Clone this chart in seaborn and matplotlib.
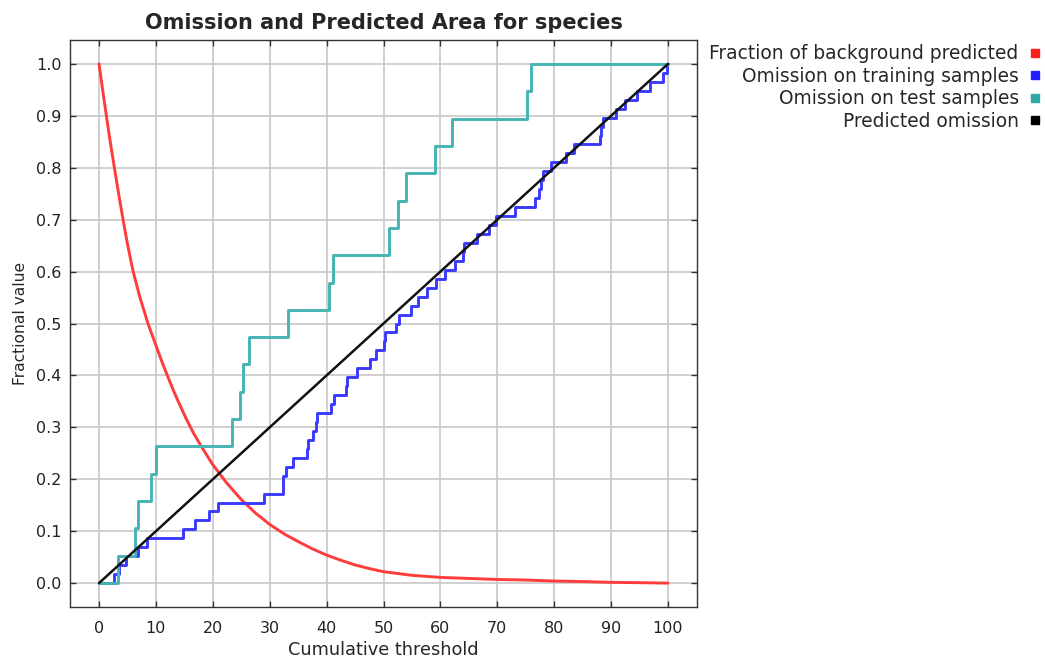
import numpy as np
import pandas as pd
import matplotlib
matplotlib.use("Agg")
import matplotlib.pyplot as plt
from matplotlib.lines import Line2D
import seaborn as sns

# cumulative thresholds at which each sample gets omitted
train_thresholds = [2.6, 3.5, 4.75, 6.8, 8.4, 14.8, 16.8, 19.4, 20.9, 29.0,
                    32.3, 32.3, 32.9, 34.1, 36.6, 36.7, 37.6, 38.1, 38.3, 40.8,
                    41.3, 43.4, 43.5, 45.4, 47.7, 48.6, 50.0, 50.35, 52.2, 52.7,
                    54.9, 56.1, 57.6, 59.3, 60.8, 62.5, 64.0, 64.2, 66.4, 68.5,
                    69.8, 73.1, 76.6, 77.3, 77.7, 78.1, 79.5, 82.0, 83.4, 88.0,
                    88.3, 88.6, 90.9, 92.4, 94.5, 96.9, 99.2, 99.8]
test_thresholds = [3.4, 6.3, 6.9, 9.2, 10.0, 23.4, 24.7, 25.3, 26.3, 33.2,
                   40.4, 41.1, 51.05, 52.5, 53.9, 59.1, 62.1, 75.2, 75.9]

# fraction of background predicted
bg_x = [0, 0.7, 1.4, 2.0, 2.7, 3.4, 4.1, 5.0, 6.0, 7.2, 8.6, 10.0, 11.0, 12.0,
        13.0, 14.0, 15.3, 16.6, 18.0, 20.0, 22.5, 25.0, 27.5, 30.0, 32.5, 35.0,
        37.5, 40.0, 42.5, 45.0, 47.5, 50.0, 55.0, 60.0, 65.0, 70.0, 75.0, 80.0,
        85.0, 90.0, 95.0, 100.0]
bg_y = [1.0, 0.945, 0.892, 0.848, 0.8, 0.753, 0.708, 0.653, 0.6, 0.55, 0.5, 0.458,
        0.428, 0.40, 0.373, 0.348, 0.317, 0.289, 0.263, 0.228, 0.192, 0.161, 0.135,
        0.113, 0.095, 0.08, 0.066, 0.054, 0.044, 0.035, 0.028, 0.022, 0.015, 0.011,
        0.009, 0.007, 0.006, 0.004, 0.003, 0.0015, 0.0008, 0.0]

pred_x = [0, 100]
pred_y = [0.0, 1.0]

labels = ["Fraction of background predicted", "Omission on training samples",
          "Omission on test samples", "Predicted omission"]
colors = ["#ff3b3b", "#3a3aff", "#46b4b4", "#111111"]
swatch_colors = ["#ff1e1e", "#2020ff", "#30a8a8", "#000000"]


def step_frame(thresholds):
    n = len(thresholds)
    xs = [0.0] + list(thresholds) + [100.0]
    ys = [0.0] + [(i + 1) / n for i in range(n)] + [1.0]
    return pd.DataFrame({"x": xs, "y": ys})


sns.set_theme(style="white")
plt.rcParams["font.family"] = ["DejaVu Sans"]

fig = plt.figure(figsize=(10.45, 6.62), dpi=100)
ax = fig.add_axes([70 / 1045, 1 - 607 / 662, 627 / 1045, 567 / 662])

bg = pd.DataFrame({"x": bg_x, "y": bg_y})
train = step_frame(train_thresholds)
test = step_frame(test_thresholds)
pred = pd.DataFrame({"x": pred_x, "y": pred_y})

sns.lineplot(data=bg, x="x", y="y", ax=ax, color=colors[0], lw=2.1,
             estimator=None, sort=False)
sns.lineplot(data=train, x="x", y="y", ax=ax, color=colors[1], lw=2.1,
             estimator=None, sort=False, drawstyle="steps-post")
sns.lineplot(data=test, x="x", y="y", ax=ax, color=colors[2], lw=2.1,
             estimator=None, sort=False, drawstyle="steps-post")
sns.lineplot(data=pred, x="x", y="y", ax=ax, color=colors[3], lw=1.8,
             estimator=None, sort=False)

ax.set_xlim(-5.1, 105.1)
ax.set_ylim(-0.046, 1.046)
ax.set_xticks(np.arange(0, 101, 10))
ax.set_yticks(np.arange(0, 1.01, 0.1))
ax.set_yticklabels([f"{v:.1f}" for v in np.arange(0, 1.01, 0.1)])
ax.grid(True, color="#c8c8c8", lw=1.2)
ax.set_axisbelow(True)
ax.tick_params(direction="in", length=4, width=1, color="#333333",
               top=True, right=True, bottom=True, left=True,
               labelsize=11.5, labelcolor="#222222")
ax.tick_params(axis="x", pad=10)
ax.tick_params(axis="y", pad=6)
for sp in ax.spines.values():
    sp.set_color("#333333")
    sp.set_linewidth(1.0)

ax.set_xlabel("Cumulative threshold", fontsize=12.8, labelpad=4)
ax.set_ylabel("Fractional value", fontsize=11.2, labelpad=6)
ax.set_title("Omission and Predicted Area for species", fontsize=15,
             fontweight="bold", pad=8)

handles = [Line2D([], [], marker="s", linestyle="none", color=c, markersize=5.5)
           for c in swatch_colors]
fig.legend(handles, labels, loc="upper right", markerfirst=False, frameon=False,
           bbox_to_anchor=(1054 / 1045, 1 - 31 / 662), bbox_transform=fig.transFigure,
           fontsize=13.4, handlelength=0.6, handletextpad=0.6, labelspacing=0.19,
           borderpad=0.2)

fig.savefig("out.png", dpi=100)
